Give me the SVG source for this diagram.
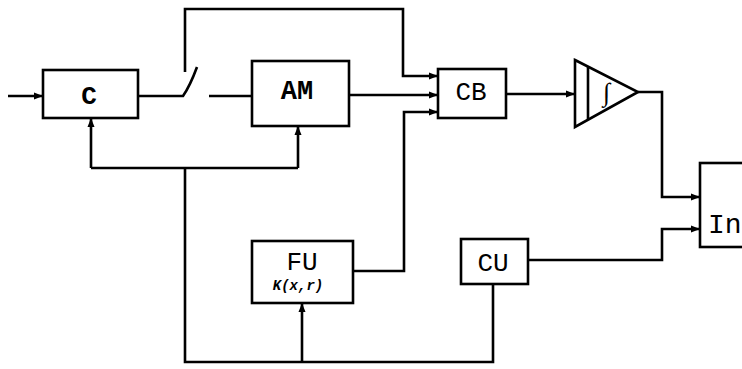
<svg xmlns="http://www.w3.org/2000/svg" width="742" height="369" viewBox="0 0 742 369">
<style>
.box{fill:#fff;stroke:#000;stroke-width:2.6}
.w{fill:none;stroke:#000;stroke-width:2.6;stroke-linejoin:miter}
.t{font-family:"Liberation Mono","DejaVu Sans Mono",monospace;fill:#000;text-anchor:middle}
</style>
<defs>
<marker id="a" markerUnits="userSpaceOnUse" markerWidth="9" markerHeight="8" refX="9" refY="4" orient="auto">
<path d="M0,0.5 L9,4 L0,7.5 z" fill="#000"/>
</marker>
</defs>
<rect width="742" height="369" fill="#fff"/>
<g id="connectors">
<path class="w" d="M8,96 H43" marker-end="url(#a)"/>
<path class="w" d="M138,96 H183 Q190,86 197,67"/>
<path class="w" d="M209,96 H252"/>
<path class="w" d="M185,72 V9 H403 V76 H438" marker-end="url(#a)"/>
<path class="w" d="M349,95 H438" marker-end="url(#a)"/>
<path class="w" d="M353,271 H404 V112 H438" marker-end="url(#a)"/>
<path class="w" d="M506,94 H575" marker-end="url(#a)"/>
<path class="w" d="M638,92 H662 V197 H700" marker-end="url(#a)"/>
<path class="w" d="M528,260 H662 V229 H700" marker-end="url(#a)"/>
<path class="w" d="M493,284 V362 H185 V168"/>
<path class="w" d="M91,168 H298"/>
<path class="w" d="M91,168 V118" marker-end="url(#a)"/>
<path class="w" d="M298,168 V126" marker-end="url(#a)"/>
<path class="w" d="M302,362 V303" marker-end="url(#a)"/>
</g>
<g id="C">
<rect class="box" x="43" y="70" width="95" height="48"/>
<text class="t" x="89" y="104" font-size="26" font-weight="bold">C</text>
</g>
<g id="AM">
<rect class="box" x="252" y="61" width="97" height="65"/>
<text class="t" x="297" y="99" font-size="27" font-weight="bold">AM</text>
</g>
<g id="CB">
<rect class="box" x="438" y="69" width="68" height="49"/>
<text class="t" x="471" y="100" font-size="26">CB</text>
</g>
<g id="integrator">
<path class="box" d="M575,60 L638,92 L575,127 Z"/>
<path class="w" d="M588,66.6 V119.8"/>
<text x="606" y="101" font-size="26" font-style="italic" font-weight="bold" font-family="Liberation Serif, serif" text-anchor="middle">∫</text>
</g>
<g id="In">
<rect class="box" x="700" y="163" width="60" height="84"/>
<text class="t" x="708" y="233" font-size="28" style="text-anchor:start">In</text>
</g>
<g id="FU">
<rect class="box" x="252" y="241" width="101" height="62"/>
<text class="t" x="302" y="270" font-size="26">FU</text>
<text class="t" x="298" y="290" font-size="14" font-style="italic" font-weight="bold">K(x,r)</text>
</g>
<g id="CU">
<rect class="box" x="461" y="239" width="67" height="45"/>
<text class="t" x="493" y="271" font-size="26">CU</text>
</g>
</svg>
